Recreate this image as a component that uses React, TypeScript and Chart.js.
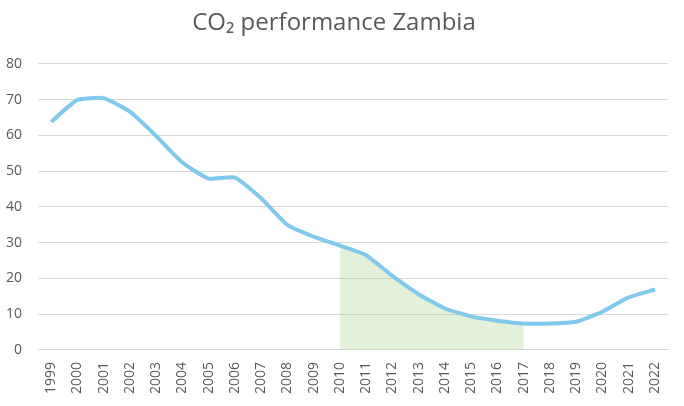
import React, { useEffect, useRef } from "react";
import { Chart, registerables } from "chart.js";

Chart.register(...registerables);

const years = ["1999","2000","2001","2002","2003","2004","2005","2006","2007","2008","2009","2010","2011","2012","2013","2014","2015","2016","2017","2018","2019","2020","2021","2022"];
const co2 = [63.8, 69.9, 70.4, 66.6, 59.8, 52.4, 47.9, 48.2, 42.4, 35.0, 31.7, 29.2, 26.5, 20.7, 15.6, 11.6, 9.4, 8.2, 7.4, 7.4, 7.9, 10.7, 14.7, 16.9];
const shadedFrom = "2010";
const shadedTo = "2017";
const yTicks = [0, 10, 20, 30, 40, 50, 60, 70, 80];

export default function App() {
  const ref = useRef<HTMLCanvasElement>(null);
  useEffect(() => {
    document.body.style.margin = "0";
    const i0 = years.indexOf(shadedFrom);
    const i1 = years.indexOf(shadedTo);
    const shaded = co2.map((v, i) => (i >= i0 && i <= i1 ? v : null));
    const chart = new Chart(ref.current!, {
      type: "line",
      data: {
        labels: years,
        datasets: [
          {
            label: "CO2",
            data: co2,
            borderColor: "#80C9EC",
            borderWidth: 4,
            pointRadius: 0,
            tension: 0.15,
            fill: false,
            order: 0,
          },
          {
            label: "shaded",
            data: shaded,
            borderWidth: 0,
            borderColor: "rgba(0,0,0,0)",
            backgroundColor: "rgba(169,208,142,0.33)",
            pointRadius: 0,
            tension: 0.15,
            fill: "origin",
            spanGaps: false,
            order: 1,
          },
        ],
      },
      options: {
        animation: false,
        responsive: false,
        layout: { padding: { left: 0, right: 16, top: 5, bottom: 8 } },
        plugins: {
          legend: { display: false },
          tooltip: { enabled: false },
          title: {
            display: true,
            text: "CO₂ performance Zambia",
            color: "#595959",
            font: { family: "Open Sans", size: 24, weight: "normal" },
            padding: { top: 4, bottom: 26 },
          },
        },
        scales: {
          x: {
            offset: true,
            grid: { display: false },
            border: { display: true, color: "#D9D9D9" },
            ticks: {
              color: "#595959",
              font: { family: "Open Sans", size: 14 },
              minRotation: 90,
              maxRotation: 90,
              autoSkip: false,
              padding: 4,
            },
          },
          y: {
            min: 0,
            max: 80,
            afterBuildTicks: (axis: any) => {
              axis.ticks = yTicks.map((v) => ({ value: v }));
            },
            afterFit: (axis: any) => {
              axis.width = 38;
            },
            grid: { color: "#D9D9D9", drawTicks: false },
            border: { display: false },
            ticks: {
              color: "#595959",
              font: { family: "Open Sans", size: 14 },
              padding: 16,
            },
          },
        },
      },
    });
    return () => chart.destroy();
  }, []);
  return (
    <div style={{ width: 684, height: 406 }}>
      <canvas ref={ref} width={684} height={406} style={{ width: 684, height: 406 }} />
    </div>
  );
}
